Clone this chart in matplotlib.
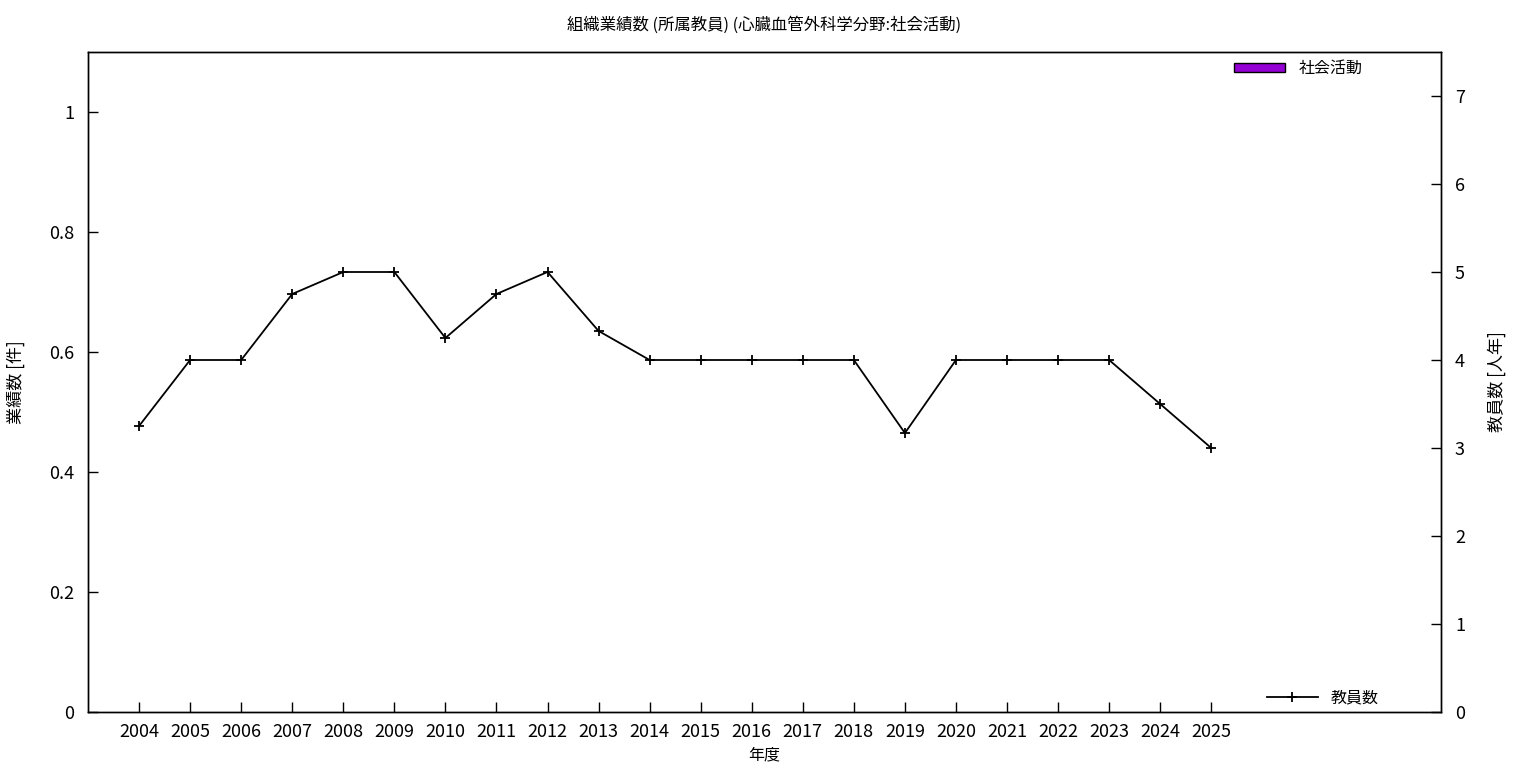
import matplotlib
matplotlib.use("Agg")
import matplotlib.pyplot as plt
from matplotlib.patches import Patch
import numpy as np

plt.rcParams['font.family'] = ['Noto Sans CJK JP', 'DejaVu Sans']

years = [2004, 2005, 2006, 2007, 2008, 2009, 2010, 2011, 2012, 2013, 2014,
         2015, 2016, 2017, 2018, 2019, 2020, 2021, 2022, 2023, 2024, 2025]
activity = [0] * len(years)
staff = [3.25, 4.0, 4.0, 4.75, 5.0, 5.0, 4.25, 4.75, 5.0, 4.33, 4.0,
         4.0, 4.0, 4.0, 4.0, 3.17, 4.0, 4.0, 4.0, 4.0, 3.5, 3.0]

title = "組織業績数 (所属教員) (心臓血管外科学分野:社会活動)"
bar_label = "社会活動"
line_label = "教員数"
bar_color = '#9400d3'

fig = plt.figure(figsize=(15.36, 7.68), dpi=100)
ax = fig.add_axes([88/1536, 56/768, (1441-88)/1536, (712-52)/768])
ax2 = ax.twinx()

ax.bar(years, activity, width=0.5, color=bar_color, linewidth=0)
ax2.plot(years, staff, color='black', linewidth=1.3, marker='+',
         markersize=7, markeredgewidth=1.3, label=line_label)

ax.set_xlim(2003, 2029.5)
ax.set_ylim(0, 1.1)
ax2.set_ylim(0, 7.5)
ax.set_xticks(years)
ax.set_xticklabels([str(y) for y in years])
ax.set_yticks([0, 0.2, 0.4, 0.6, 0.8, 1.0])
ax.set_yticklabels(['0', '0.2', '0.4', '0.6', '0.8', '1'])
ax2.set_yticks(range(8))

for a in (ax, ax2):
    a.tick_params(direction='in', length=7, width=1, labelsize=13)
    for s in a.spines.values():
        s.set_linewidth(1)
ax.tick_params(axis='x', pad=8)
ax.tick_params(axis='y', pad=10)
ax2.tick_params(axis='y', pad=10)

ax.set_xlabel("年度", fontsize=11.5, labelpad=4)
ax.set_ylabel("業績数 [件]", fontsize=12.3, labelpad=17)
ax2.set_ylabel("教員数 [人年]", fontsize=12.3, rotation=90, labelpad=16)
ax.set_title(title, fontsize=11.8, pad=16)

bar_handle = Patch(facecolor=bar_color, edgecolor='black', linewidth=1,
                   label=bar_label)
leg1 = ax.legend(handles=[bar_handle], loc='upper right', frameon=False,
                 fontsize=11.5, handlelength=3.2, handleheight=0.5,
                 borderaxespad=0.3, bbox_to_anchor=(0.95, 1.005))
leg2 = ax2.legend(loc='lower right', frameon=False, fontsize=11.5,
                  handlelength=3.2, borderaxespad=0.3,
                  bbox_to_anchor=(0.962, -0.008))

fig.savefig("out.png", dpi=100)
